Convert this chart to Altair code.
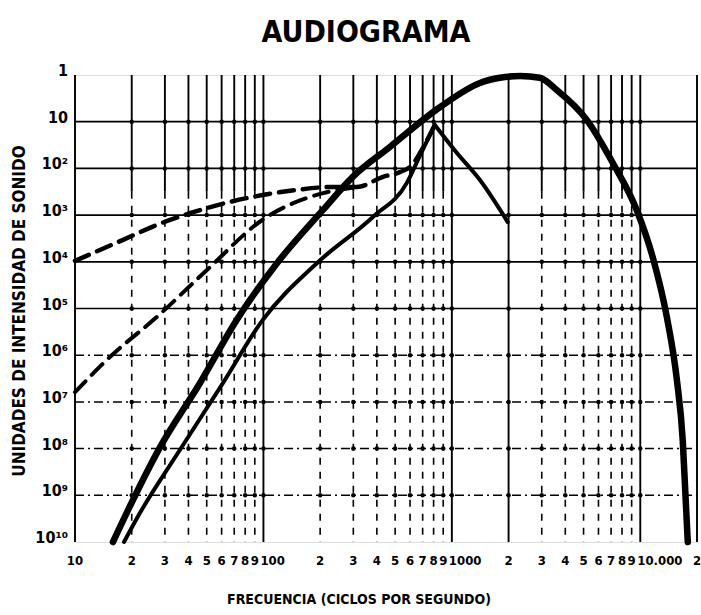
import altair as alt
import pandas as pd

FUENTE = "DejaVu Sans Condensed, Liberation Sans Narrow, Roboto, sans-serif"
ANCHO, ALTO = 622, 467

# Frecuencias de la rejilla (Hz)
rejilla_f = [10, 20, 30, 40, 50, 60, 70, 80, 90,
             100, 200, 300, 400, 500, 600, 700, 800, 900,
             1000, 2000, 3000, 4000, 5000, 6000, 7000, 8000, 9000,
             10000, 20000]
# Rotulos de una cifra bajo el eje de frecuencias
cifras_f = [10, 20, 30, 40, 50, 60, 70, 80, 90,
            200, 300, 400, 500, 600, 700, 800, 900,
            2000, 3000, 4000, 5000, 6000, 7000, 8000, 9000, 20000]
cifras_t = ["10", "2", "3", "4", "5", "6", "7", "8", "9",
            "2", "3", "4", "5", "6", "7", "8", "9",
            "2", "3", "4", "5", "6", "7", "8", "9", "2"]
# Rotulos de las decadas
decadas_f = [100, 1000, 10000]
decadas_t = ["100", "1000", "10.000"]
# Lineas verticales que recorren todo el alto
lineas_largas = [10, 100, 1000, 2000, 10000, 20000]
# Niveles de intensidad (potencias de diez) y su rotulo
niveles = list(range(11))
etiquetas_y = ["1", "10", "10²", "10³", "10⁴", "10⁵", "10⁶", "10⁷", "10⁸", "10⁹", "10¹⁰"]
niveles_solidos = [1, 2, 3, 4, 5]
niveles_punteados = [6, 7, 8, 9]

# Curva envolvente del campo auditivo
envolvente_f = [15.9, 20.3, 28, 46, 72, 118, 207, 298, 469, 863, 1410, 1800,
                2300, 2930, 3600, 5200, 7140, 9570, 11640, 13830, 15640, 16800,
                17420, 17870]
envolvente_k = [10.0, 9.1, 8.0, 6.6, 5.25, 4.03, 2.89, 2.18, 1.54, 0.69, 0.17, 0.06,
                0.02, 0.06, 0.32, 0.96, 1.88, 2.89, 3.90, 5.18, 6.53, 7.82,
                9.10, 10.0]

# Curva del tono de 800 ciclos (subida y bajada)
tono_sube_f = [18.2, 22.1, 36, 60, 99, 192, 381, 577, 676, 812]
tono_sube_k = [10.0, 9.38, 8.03, 6.64, 5.25, 4.03, 3.04, 2.31, 1.73, 1.07]
tono_baja_f = [812, 1064, 1410, 1980]
tono_baja_k = [1.07, 1.67, 2.25, 3.15]

# Curvas de trazos
trazos_a_f = [10, 18, 27.2, 40.7, 66, 99, 151, 225, 313, 431, 530, 614, 702, 812]
trazos_a_k = [3.98, 3.53, 3.21, 2.96, 2.72, 2.57, 2.46, 2.40, 2.40, 2.18, 2.08, 1.93, 1.56, 1.07]
trazos_b_f = [10, 15.3, 27.2, 50, 99, 207, 313]
trazos_b_k = [6.79, 6.04, 5.18, 4.18, 3.10, 2.53, 2.40]

escala_x = alt.Scale(type="log", domain=[10, 20000], nice=False)
escala_y = alt.Scale(domain=[0, 10], reverse=True, nice=False, zero=False)


def X(campo):
    return alt.X(campo, type="quantitative", scale=escala_x, axis=None)


def Y(campo):
    return alt.Y(campo, type="quantitative", scale=escala_y, axis=None)


texto = dict(font=FUENTE, fontWeight="bold", color="black")

# Rejilla horizontal
base_h = alt.Chart(pd.DataFrame({"k": niveles_solidos})).mark_rule(
    color="black", strokeWidth=1.7).encode(
    y=Y("k"), x=alt.value(0), x2=alt.value(ANCHO))
punt_h = alt.Chart(pd.DataFrame({"k": niveles_punteados})).mark_rule(
    color="black", strokeWidth=1.5, strokeDash=[9, 4, 2, 4]).encode(
    y=Y("k"), x=alt.value(0), x2=alt.value(ANCHO))

# Rejilla vertical
filas_sol, filas_pun = [], []
for f in rejilla_f:
    if f in lineas_largas:
        filas_sol.append({"f": f, "k0": 0, "k1": 10})
    else:
        filas_sol.append({"f": f, "k0": 0, "k1": 2.5})
        filas_pun.append({"f": f, "k0": 2.5, "k1": 10})
v_sol = alt.Chart(pd.DataFrame(filas_sol)).mark_rule(color="black", strokeWidth=1.9).encode(
    x=X("f"), y=Y("k0"), y2="k1:Q")
v_pun = alt.Chart(pd.DataFrame(filas_pun)).mark_rule(
    color="black", strokeWidth=1.6, strokeDash=[7, 7]).encode(
    x=X("f"), y=Y("k0"), y2="k1:Q")

# Puntos en los cruces de la rejilla
cruces = pd.DataFrame([{"f": f, "k": k} for k in range(1, 10) for f in rejilla_f[1:-1]])
puntos = alt.Chart(cruces).mark_circle(color="black", size=20, opacity=1).encode(
    x=X("f"), y=Y("k"))

# Rotulos de los ejes
rot_x = alt.Chart(pd.DataFrame({"f": cifras_f, "t": cifras_t})).mark_text(
    align="center", baseline="top", fontSize=13, **texto).encode(
    x=X("f"), y=alt.value(ALTO + 13), text="t:N")
rot_dec = alt.Chart(pd.DataFrame({"f": decadas_f, "t": decadas_t})).mark_text(
    align="left", baseline="top", fontSize=13, dx=-3, **texto).encode(
    x=X("f"), y=alt.value(ALTO + 13), text="t:N")
rot_y = alt.Chart(pd.DataFrame({"k": niveles, "t": etiquetas_y})).mark_text(
    align="right", baseline="middle", fontSize=16, dx=-7, dy=-4, **texto).encode(
    y=Y("k"), x=alt.value(0), text="t:N")
tit_x = alt.Chart(pd.DataFrame({"t": ["FRECUENCIA (CICLOS POR SEGUNDO)"]})).mark_text(
    align="center", baseline="middle", fontSize=14, **texto).encode(
    x=alt.value(284), y=alt.value(ALTO + 58), text="t:N")
tit_y = alt.Chart(pd.DataFrame({"t": ["UNIDADES DE INTENSIDAD DE SONIDO"]})).mark_text(
    align="center", baseline="middle", fontSize=17, angle=270, **texto).encode(
    x=alt.value(-55), y=alt.value(236), text="t:N")


def curva(fs, ks, ancho, trazo=None):
    props = dict(color="black", strokeWidth=ancho, interpolate="monotone",
                 strokeCap="round", strokeJoin="round")
    if trazo:
        props["strokeDash"] = trazo
    return alt.Chart(pd.DataFrame({"f": fs, "k": ks})).mark_line(**props).encode(
        x=X("f"), y=Y("k"))


capas = [
    base_h, punt_h, v_sol, v_pun, puntos,
    curva(trazos_a_f, trazos_a_k, 4.5, [15, 9]),
    curva(trazos_b_f, trazos_b_k, 4, [15, 9]),
    curva(tono_sube_f, tono_sube_k, 4),
    curva(tono_baja_f, tono_baja_k, 4),
    curva(envolvente_f, envolvente_k, 6.5),
    rot_x, rot_dec, rot_y, tit_x, tit_y,
]

chart = alt.layer(*capas).properties(
    width=ANCHO, height=ALTO,
    autosize=alt.AutoSizeParams(type="none"),
    padding={"left": 75, "top": 75, "right": 4, "bottom": 73},
    title=alt.Title("AUDIOGRAMA", font=FUENTE, fontSize=30, fontWeight="bold",
                    color="black", anchor="middle", dx=-20, offset=15),
).configure_view(stroke="black", strokeWidth=2.5).configure(background="white")

chart.save("out.html", embed_options={"renderer": "svg", "actions": False})
